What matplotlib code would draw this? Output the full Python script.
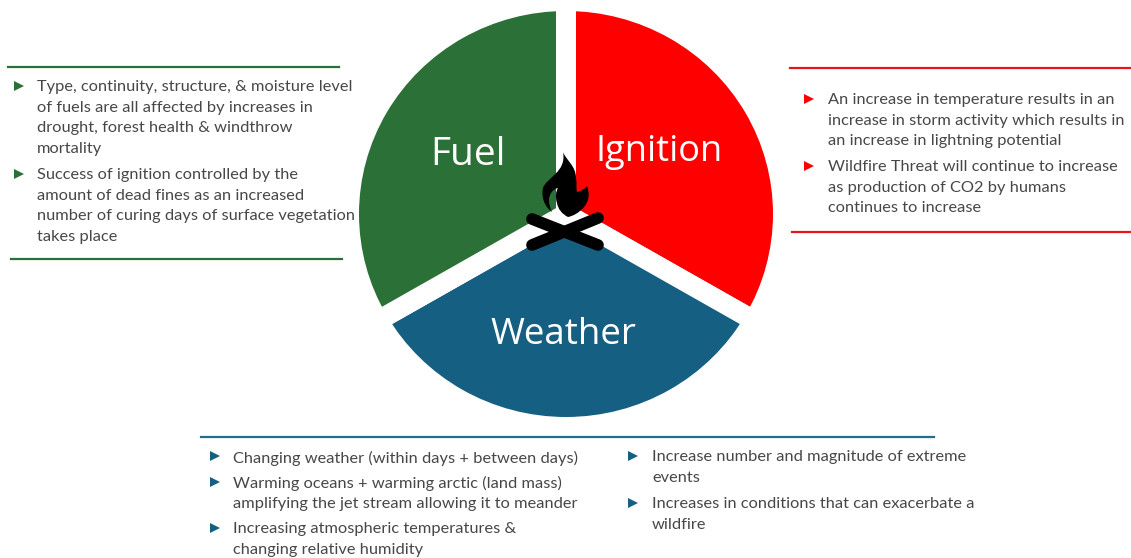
import matplotlib
matplotlib.use("Agg")
import matplotlib.pyplot as plt
from matplotlib.path import Path
from matplotlib.patches import PathPatch

plt.rcParams['font.family'] = ['Lato', 'DejaVu Sans']

# slices go clockwise from the top
slice_names = ["Ignition", "Weather", "Fuel"]
slice_sizes = [1, 1, 1]
slice_colors = ["#FF0000", "#156082", "#2B7037"]

fuel_lines = [["Type, continuity, structure, & moisture level",
               "of fuels are all affected by increases in",
               "drought, forest health & windthrow",
               "mortality"],
              ["Success of ignition controlled by the",
               "amount of dead fines as an increased",
               "number of curing days of surface vegetation",
               "takes place"]]
ignition_lines = [["An increase in temperature results in an",
                   "increase in storm activity which results in",
                   "an increase in lightning potential"],
                  ["Wildfire Threat will continue to increase",
                   "as production of CO2 by humans",
                   "continues to increase"]]
weather_left = [["Changing weather (within days + between days)"],
                ["Warming oceans + warming arctic (land mass)",
                 "amplifying the jet stream allowing it to meander"],
                ["Increasing atmospheric temperatures &",
                 "changing relative humidity"]]
weather_right = [["Increase number and magnitude of extreme",
                  "events"],
                 ["Increases in conditions that can exacerbate a",
                  "wildfire"]]

TEXT = "#474747"
W, H = 1131, 558

fig = plt.figure(figsize=(W / 100, H / 100), dpi=100)
ax = fig.add_axes([0, 0, 1, 1])
ax.set_xlim(0, W)
ax.set_ylim(H, 0)
ax.axis("off")

# pie in its own axes, white edges make the gaps
cx, cy, rx, ry = 566, 214, 217, 213
pie_ax = fig.add_axes([(cx - rx) / W, 1 - (cy + ry) / H, 2 * rx / W, 2 * ry / H])
pie_ax.pie(slice_sizes, colors=slice_colors, startangle=90, counterclock=False,
           radius=1, wedgeprops=dict(edgecolor="white", linewidth=14.4))
pie_ax.set_aspect("auto")
pie_ax.set_xlim(-1, 1)
pie_ax.set_ylim(-1, 1)
pie_ax.patch.set_alpha(0)

top = fig.add_axes([0, 0, 1, 1])
top.set_xlim(0, W)
top.set_ylim(H, 0)
top.axis("off")
top.patch.set_alpha(0)

top.text(659, 152, slice_names[0], color="white", fontsize=26, ha="center", va="center", family=["Open Sans"])
top.text(563, 335, slice_names[1], color="white", fontsize=26.5, ha="center", va="center", family=["Open Sans"])
top.text(468, 155, slice_names[2], color="white", fontsize=28, ha="center", va="center", family=["Open Sans"])

# campfire icon
flame = Path([(563, 152),
              (566, 160), (576, 166), (576, 178),
              (577, 184), (576, 188), (577, 192),
              (581, 191), (585, 189), (587, 186),
              (590, 194), (589, 201), (584, 207),
              (579, 213), (573, 216), (568, 217),
              (562, 214), (558, 209), (557, 203),
              (555, 197), (556, 191), (558, 188),
              (553, 189), (549, 194), (549, 200),
              (549, 204), (550, 208), (552, 212),
              (545, 207), (541, 198), (543, 188),
              (546, 178), (567, 172), (563, 152)],
             [1] + [4] * 33)
top.add_patch(PathPatch(flame, facecolor="black", edgecolor="none"))
top.plot([532, 598], [219, 245], color="black", lw=8.4, solid_capstyle="round")
top.plot([532, 598], [245, 218], color="black", lw=8.4, solid_capstyle="round")


def block(groups, x, x_bullet, ys, bullet_ys, color, size):
    flat = [line for g in groups for line in g]
    for line, y in zip(flat, ys):
        top.text(x, y, line, color=TEXT, fontsize=size, ha="left", va="center")
    top.plot([x_bullet] * len(bullet_ys), bullet_ys, ls="none", marker=">", ms=7.5, color=color, mec=color, mew=0)


block(fuel_lines, 37, 19, [87, 108, 128, 149, 175, 196, 216, 237], [86, 174], "#2B7037", 11.75)
block(ignition_lines, 828, 809, [100, 121, 141, 167, 188, 208], [99, 166], "#FF0000", 11.75)
block(weather_left, 233, 215, [458, 483, 504, 529, 550], [456, 482, 528], "#156082", 11.75)
block(weather_right, 652, 633, [457, 478, 504, 525], [456, 503], "#156082", 11.75)

top.plot([8, 339], [67, 67], color="#2B7037", lw=1.6)
top.plot([11, 342], [259, 259], color="#2B7037", lw=1.6)
top.plot([790, 1131], [68, 68], color="#E8141C", lw=1.6)
top.plot([792, 1131], [232, 232], color="#E8141C", lw=1.6)
top.plot([201, 934], [437, 437], color="#1F6E92", lw=1.6)

fig.savefig("out.png", dpi=100, facecolor="white")
